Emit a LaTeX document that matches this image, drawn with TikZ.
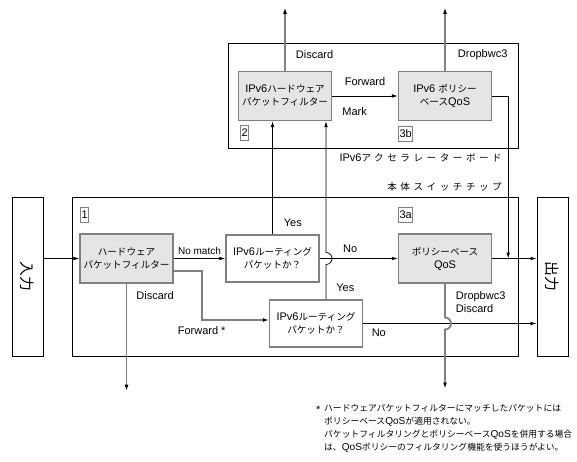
\documentclass[tikz,border=0pt]{standalone}
\usepackage{fontspec}
\usepackage{graphicx}
\setmainfont{Liberation Sans}
\newfontfamily\jp{Noto Sans CJK JP}[Scale=0.87]
\usetikzlibrary{calc}
\usetikzlibrary{arrows.meta}
\tikzset{
  frame/.style= {draw, line width=0.8pt, inner sep=0},
  pbox/.style= {draw=gray, line width=1.4pt, fill=black!10, align=center,
    minimum width=93, minimum height=49, inner sep=1pt},
  qbox/.style= {pbox, fill=white, minimum height=47},
  tag/.style= {draw=gray, line width=1pt, inner sep=1pt, minimum height=15, anchor=west},
  lbl/.style= {inner sep=0},
  flow/.style= {line width=0.7pt, -{Latex[length=6pt,width=3.6pt]}},
  gline/.style= {draw=gray, line width=1.8pt},
  drop/.style= {gline, -{Latex[length=6pt,width=4pt,color=black]}},
}

\begin{document}
\begin{tikzpicture}[x=1pt, y=1pt, font=\fontsize{11}{13}\selectfont]
  \useasboundingbox (0,0) rectangle (577,-462);

  % frames
  \node [frame, minimum width=290, minimum height=105] (board) at (373,-95.5) {};
  \node [frame, minimum width=446, minimum height=159] (chip) at (295,-276.5) {};
  \node [frame, minimum width=31, minimum height=159] (in) at (27.5,-276.5)
    {\rotatebox{-90}{\fontsize{17}{17}\selectfont\jp 入力}};
  \node [frame, minimum width=31, minimum height=159] (out) at (552.5,-276.5)
    {\rotatebox{-90}{\fontsize{17}{17}\selectfont\jp 出力}};
  \node [lbl, anchor=east] (boardname) at (502,-158)
    {IPv6{\jp\addfontfeature{LetterSpace=37}アクセラレーターボード}};
  \node [lbl, anchor=east] (chipname) at (502,-187)
    {\jp\addfontfeature{LetterSpace=37}本体スイッチチップ};

  % processing blocks
  \node [pbox] (f1) at (126.5,-258.5) {{\jp ハードウェア}\\{\jp パケットフィルター}};
  \node [qbox] (r1) at (272.5,-258.5) {IPv6{\jp ルーティング}\\{\jp パケットか？}};
  \node [qbox] (r2) at (316,-323.5) {IPv6{\jp ルーティング}\\{\jp パケットか？}};
  \node [pbox] (q3a) at (445,-258.5) {{\jp ポリシーベース}\\QoS};
  \node [pbox] (f2) at (285,-96) {IPv6{\jp ハードウェア}\\{\jp パケットフィルター}};
  \node [pbox] (q3b) at (445,-96) {IPv6 {\jp ポリシー}\\{\jp ベース}QoS};

  \node [tag] (t1) at (80,-214.5) {1};
  \node [tag] (t3a) at (398,-214.5) {3a};
  \node [tag] (t2) at (240,-133) {2};
  \node [tag] (t3b) at (398,-134) {3b};

  % helper points
  \coordinate (up2) at ([xshift=10pt]r2.north);
  \coordinate (hop1) at (up2 |- r1.east);
  \coordinate (hop2) at (q3a.south |- r2.east);
  \coordinate (mrg) at ($(q3a.east)!0.36!(out.west |- q3a.east)$);

  % main chip
  \draw [flow] (in.east |- f1) -- (f1);
  \draw [flow] (f1) -- node [lbl, above=4pt, font=\fontsize{10}{12}\selectfont] {No match} (r1);
  \draw [flow] (r1) -- node [lbl, pos=0.39, above=6pt] {No} (q3a);
  \draw [flow] (q3a) -- (out.west |- q3a);
  \draw [flow] (r2.east) -- node [lbl, pos=0.09, below=5pt] {No} (out.west |- r2.east);
  \draw [drop] ([yshift=-12.5pt]f1.east) -- ++(28,0)
    |- node [lbl, pos=0.5, below=6pt] {Forward *} ([yshift=3.5pt]r2.west);
  \draw [drop] (f1.south) -- node [lbl, pos=0.11, right=9pt] {Discard} ++(0,-107);
  \draw [drop] (q3a.south) -- node [lbl, pos=0.55, right=10pt, align=left] {Dropbwc3\\Discard}
    ([yshift=6pt]hop2) arc [start angle=90, end angle=-90, radius=6pt] -- ++(0,-59);

  % to the accelerator board
  \draw [flow] (r1.north) -- node [lbl, pos=0.1, right=11pt] {Yes} (r1.north |- f2.south);
  \draw [flow] (up2) -- node [lbl, pos=0.32, right=10pt] {Yes} ([yshift=-6pt]hop1)
    arc [start angle=-90, end angle=90, radius=6pt] -- (up2 |- f2.south);

  % accelerator board
  \draw [flow] (f2) -- node [lbl, above=10pt] {Forward}
    node [lbl, pos=0.15, below=11pt, anchor=north west] {Mark} (q3b);
  \draw [flow] (q3b.east) -| (mrg);
  \draw [drop] (f2.north) -- node [lbl, pos=0.25, right=10pt] {Discard} ++(0,63);
  \draw [drop] (q3b.north) -- node [lbl, pos=0.25, right=12pt] {Dropbwc3} ++(0,63);

  % footnote
  \node [lbl, anchor=west] (star) at (316,-410) {*};
  \node [lbl, anchor=north west, align=left, font=\fontsize{10.1}{13}\selectfont] (note) at (324,-404)
    {{\jp ハードウェアパケットフィルターにマッチしたパケットには}\\
     {\jp ポリシーベース}QoS{\jp が適用されない。}\\
     {\jp パケットフィルタリングとポリシーベース}QoS{\jp を併用する場合}\\
     {\jp は、}QoS{\jp ポリシーのフィルタリング機能を使うほうがよい。}};
\end{tikzpicture}
\end{document}
